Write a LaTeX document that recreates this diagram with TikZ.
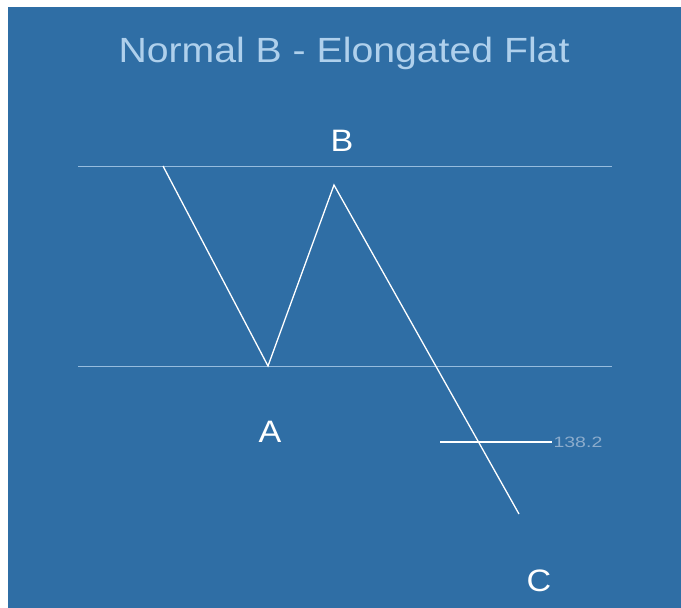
\documentclass[tikz,border=0pt]{standalone}
\usepackage{fontspec}
\setmainfont{Liberation Sans}
\definecolor{bgblue}{RGB}{47,110,165}
\definecolor{levelblue}{RGB}{150,188,222}
\definecolor{titleblue}{RGB}{175,208,236}
\definecolor{fibgray}{RGB}{140,172,204}

\begin{document}
\begin{tikzpicture}[x=1pt,y=-1pt,
  level/.style={draw=levelblue,line width=1pt},
  wave/.style={draw=white,line width=1.3pt},
  ttl/.style={text=titleblue,font=\fontsize{35}{35}\selectfont,xscale=1.12},
  pt/.style={text=white,font=\fontsize{31}{31}\selectfont,xscale=1.1},
  fib/.style={text=fibgray,font=\fontsize{15}{15}\selectfont,inner sep=1pt,xscale=1.3}]
\fill[white] (0,0) rectangle (681,608);
\fill[bgblue] (8,7) rectangle (681,608);
\useasboundingbox (0,0) rectangle (681,608);
\node[ttl] (title) at (344,53) {Normal B - Elongated Flat};
% levels
\coordinate (topL) at (78,166);
\coordinate (topR) at (612,166);
\coordinate (botL) at (78,366);
\coordinate (botR) at (612,366);
\draw[level] (topL) -- (topR);
\draw[level] (botL) -- (botR);
% wave
\coordinate (start) at (163,166);
\coordinate (ptA) at (268,366);
\coordinate (ptB) at (334,185);
\coordinate (ptC) at (519,514);
\draw[wave] (start) -- (ptA) -- (ptB) -- (ptC);
% extension
\coordinate (extL) at (440,442);
\coordinate (extR) at (552,442);
\draw[wave] (extL) -- (extR);
\node[fib,anchor=west] (extlbl) at (extR) {138.2};
\node[pt] (A) at (270,432) {A};
\node[pt] (B) at (342,141) {B};
\node[pt] (C) at (539,581) {C};
\end{tikzpicture}
\end{document}
